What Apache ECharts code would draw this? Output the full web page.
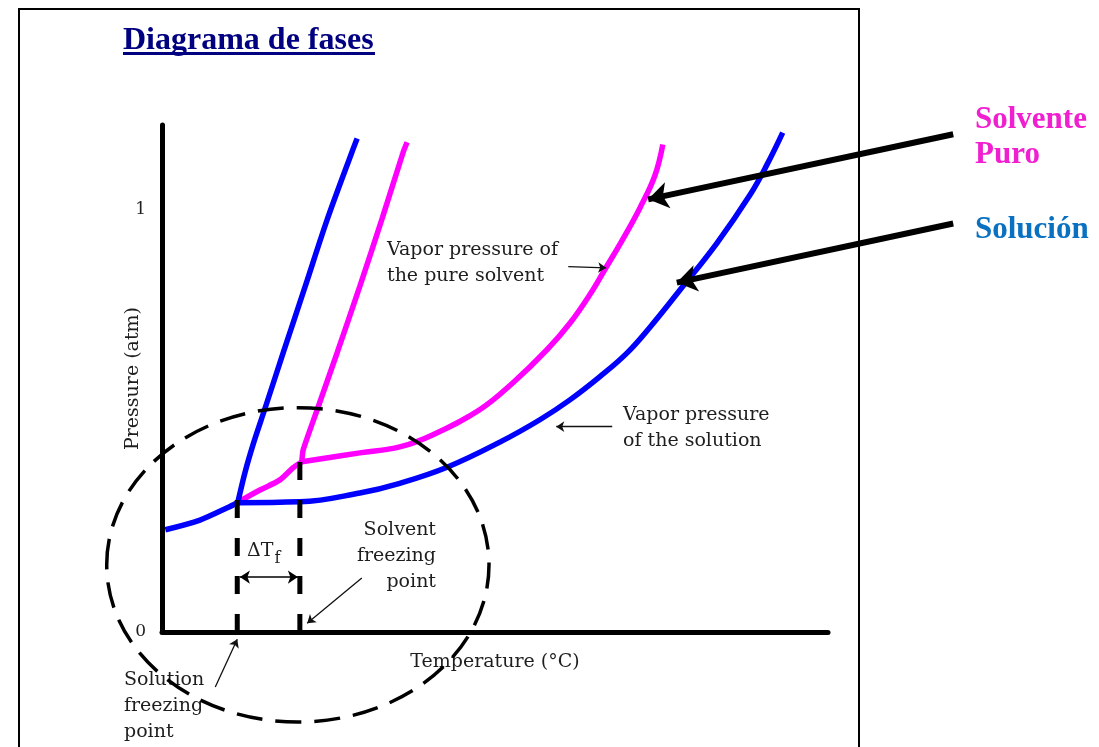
<!DOCTYPE html>
<html>
<head>
<meta charset="utf-8">
<title>Diagrama de fases</title>
<script src="https://cdn.jsdelivr.net/npm/echarts@6/dist/echarts.min.js"></script>
<style>
  html, body { margin: 0; padding: 0; background: #fff; }
  #chart { width: 1099px; height: 747px; }
</style>
</head>
<body>
<div id="chart"></div>
<script>
// pressure axis ticks that carry a label
var pressureTicks = [0, 1];

// curves as [temperature, pressure]; temperature in arbitrary units (0-100 along the axis)
var solidVapor = [[0.5, 0.242], [5.7, 0.265], [9.8, 0.294], [11.3, 0.306]];
var solventSolidVapor = [[11.3, 0.306], [14.7, 0.336], [17.7, 0.360], [19.7, 0.389], [21.0, 0.403]];
var solutionFusion = [[11.4, 0.308], [12.5, 0.380], [13.8, 0.450], [15.4, 0.526], [18.2, 0.661], [21.5, 0.818], [24.8, 0.976], [28.5, 1.135], [29.3, 1.168]];
var solventFusion = [[21.0, 0.403], [21.2, 0.431], [23.3, 0.526], [26.3, 0.661], [29.7, 0.818], [33.0, 0.976], [36.2, 1.135], [36.8, 1.159]];
var solventVapor = [[21.0, 0.403], [29.7, 0.424], [35.7, 0.438], [40.7, 0.467], [47.7, 0.526], [52.7, 0.590], [57.8, 0.668], [61.3, 0.732], [64.3, 0.800], [66.5, 0.858], [69.2, 0.930], [71.8, 1.005], [74.0, 1.080], [75.2, 1.154]];
var solutionVapor = [[11.4, 0.306], [20.7, 0.308], [29.7, 0.329], [35.7, 0.352], [42.8, 0.390], [50.8, 0.450], [56.8, 0.503], [61.3, 0.550], [65.8, 0.605], [69.8, 0.660], [73.3, 0.722], [77.8, 0.810], [83.3, 0.920], [88.3, 1.035], [90.8, 1.105], [93.2, 1.182]];

// freezing points (dashed drop lines) [temperature, top pressure]
var solutionFreezing = [11.3, 0.32];
var solventFreezing = [20.7, 0.412];

// dashed ellipse: [center T, center P, radius T, radius P]
var ellipseZone = [20.4, 0.159, 28.7, 0.372];

// pointer arrows [[fromT, fromP], [toT, toP]]
var arrowPure = [[118.8, 1.178], [73.0, 1.024]];
var arrowSolution = [[118.8, 0.967], [77.3, 0.827]];
var notePureArrow = [[61.0, 0.865], [66.7, 0.862]];
var noteSolutionArrow = [[67.6, 0.486], [59.2, 0.486]];
var solventFpArrow = [[30.0, 0.128], [21.8, 0.021]];
var solutionFpArrow = [[8.0, -0.130], [11.3, -0.017]];
var deltaArrow = [[11.7, 0.130], [20.4, 0.130]];

var BLUE = '#0000ff';
var PINK = '#ff00ff';
var SERIF = 'DejaVu Serif';
var TEXT = '#1e1e1e';

var myChart = echarts.init(document.getElementById('chart'));

function curve(data, color, smooth) {
  return {
    type: 'line',
    data: data,
    symbol: 'none',
    smooth: smooth,
    clip: false,
    lineStyle: { color: color, width: 5.5 },
    z: 3
  };
}

function dropLine(point) {
  return {
    type: 'line',
    data: [[point[0], 0], point],
    symbol: 'none',
    clip: false,
    lineStyle: { color: '#000', width: 5, type: [18, 20] },
    z: 5
  };
}

function note(text, x, y, align) {
  return {
    type: 'text',
    x: x,
    y: y,
    style: {
      text: text,
      font: '19px "' + SERIF + '"',
      fill: TEXT,
      lineHeight: 26,
      align: align || 'left',
      verticalAlign: 'top'
    }
  };
}

var option = {
  animation: false,
  backgroundColor: '#fff',
  grid: { left: 162, top: 125, right: 271, bottom: 115 },
  xAxis: {
    type: 'value',
    min: 0,
    max: 100,
    name: 'Temperature (°C)',
    nameLocation: 'middle',
    nameGap: 21,
    nameMoveOverlap: false,
    nameTextStyle: { fontFamily: SERIF, fontSize: 19, color: TEXT },
    axisLine: { lineStyle: { color: '#000', width: 5 } },
    axisTick: { show: false },
    axisLabel: { show: false },
    splitLine: { show: false }
  },
  yAxis: {
    type: 'value',
    min: 0,
    max: 1.2,
    interval: 1,
    name: 'Pressure (atm)',
    nameLocation: 'middle',
    nameGap: 19,
    nameMoveOverlap: false,
    nameTextStyle: { fontFamily: SERIF, fontSize: 19, color: TEXT },
    axisLine: { show: true, lineStyle: { color: '#000', width: 5 } },
    axisTick: { show: false },
    splitLine: { show: false },
    axisLabel: {
      margin: 16,
      fontFamily: SERIF,
      fontSize: 17,
      color: TEXT,
      formatter: function (v) { return pressureTicks.indexOf(v) >= 0 ? String(v) : ''; }
    }
  },
  series: [
    curve(solidVapor, BLUE, 0.3),
    curve(solventSolidVapor, PINK, 0.3),
    curve(solutionFusion, BLUE, 0.3),
    curve(solventFusion, PINK, 0.2),
    curve(solventVapor, PINK, 0.4),
    curve(solutionVapor, BLUE, 0.4),
    dropLine(solutionFreezing),
    dropLine(solventFreezing),
    {
      type: 'custom',
      coordinateSystem: 'cartesian2d',
      data: [ellipseZone],
      encode: { x: 0, y: 1 },
      clip: false,
      z: 4,
      renderItem: function (params, api) {
        var c = api.coord([api.value(0), api.value(1)]);
        var e = api.coord([api.value(0) + api.value(2), api.value(1) + api.value(3)]);
        return {
          type: 'ellipse',
          shape: { cx: c[0], cy: c[1], rx: Math.abs(e[0] - c[0]), ry: Math.abs(c[1] - e[1]) },
          style: { fill: null, stroke: '#000', lineWidth: 3.5, lineDash: [26, 13] }
        };
      }
    },
    {
      type: 'lines',
      coordinateSystem: 'cartesian2d',
      clip: false,
      symbol: ['none', 'arrow'],
      symbolSize: 20,
      lineStyle: { color: '#000', width: 6, opacity: 1 },
      z: 6,
      data: [{ coords: arrowPure }, { coords: arrowSolution }]
    },
    {
      type: 'lines',
      coordinateSystem: 'cartesian2d',
      clip: false,
      symbol: ['none', 'arrow'],
      symbolSize: 8,
      lineStyle: { color: '#111', width: 1.3, opacity: 1 },
      z: 6,
      data: [{ coords: notePureArrow }, { coords: noteSolutionArrow }, { coords: solventFpArrow }, { coords: solutionFpArrow }]
    },
    {
      type: 'lines',
      coordinateSystem: 'cartesian2d',
      clip: false,
      symbol: ['arrow', 'arrow'],
      symbolSize: 10,
      lineStyle: { color: '#000', width: 1.5, opacity: 1 },
      z: 6,
      data: [{ coords: deltaArrow }]
    }
  ],
  graphic: [
    {
      type: 'rect',
      shape: { x: 19, y: 9, width: 840, height: 770 },
      style: { fill: null, stroke: '#000', lineWidth: 2 },
      silent: true
    },
    {
      type: 'text',
      left: 123,
      top: 25,
      style: { text: 'Diagrama de fases', font: 'bold 32px "Liberation Serif"', fill: '#000080' }
    },
    {
      type: 'rect',
      shape: { x: 123, y: 52, width: 252, height: 3 },
      style: { fill: '#000080' }
    },
    {
      type: 'text',
      left: 975,
      top: 102,
      style: { text: 'Solvente\nPuro', font: 'bold 31px "Liberation Serif"', fill: '#f01fd0', lineHeight: 35 }
    },
    {
      type: 'text',
      left: 975,
      top: 214,
      style: { text: 'Solución', font: 'bold 31px "Liberation Serif"', fill: '#0a70c0' }
    },
    note('Vapor pressure of\nthe pure solvent', 387, 237),
    note('Vapor pressure\nof the solution', 623, 402),
    note('Solvent\nfreezing\npoint', 436, 517, 'right'),
    note('Solution\nfreezing\npoint', 124, 667),
    {
      type: 'text',
      left: 247,
      top: 542,
      style: {
        text: '{a|ΔT}{b|f}',
        fill: TEXT,
        rich: {
          a: { font: '19px "' + SERIF + '"', fill: TEXT },
          b: { font: '16px "' + SERIF + '"', fill: TEXT, padding: [14, 0, 0, 1] }
        }
      }
    }
  ]
};

myChart.setOption(option);
</script>
</body>
</html>
